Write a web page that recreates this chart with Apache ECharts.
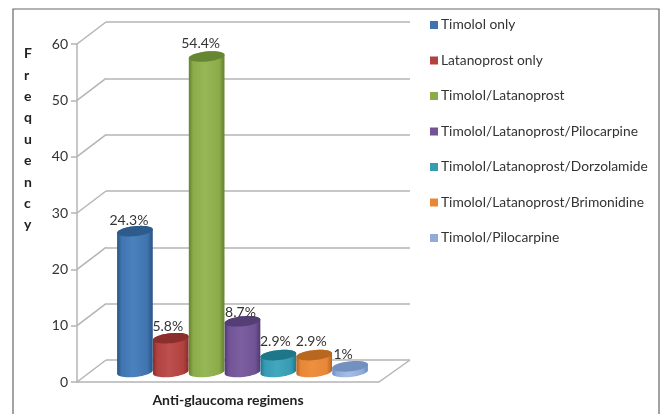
<!DOCTYPE html>
<html>
<head>
<meta charset="utf-8">
<style>html,body{margin:0;padding:0;background:#fff}#c{width:661px;height:414px;filter:blur(0.35px)}</style>
<script src="https://cdn.jsdelivr.net/npm/echarts@6/dist/echarts.min.js"></script>
</head>
<body>
<div id="c"></div>
<script>
const categories = ['Timolol only','Latanoprost only','Timolol/Latanoprost','Timolol/Latanoprost/Pilocarpine','Timolol/Latanoprost/Dorzolamide','Timolol/Latanoprost/Brimonidine','Timolol/Pilocarpine'];
const frequencies = [25,6,56,9,3,3,1];
const percentLabels = ['24.3%','5.8%','54.4%','8.7%','2.9%','2.9%','1%'];
const yTicks = [0,10,20,30,40,50,60];

const palette = [
  {main:'#3f74ae',dark:'#285382',light:'#4b82be',top:'#2d5b8c'},
  {main:'#b24240',dark:'#862d2b',light:'#bc504e',top:'#8b2e2c'},
  {main:'#8cac4a',dark:'#63812d',light:'#97b655',top:'#678632'},
  {main:'#725496',dark:'#513873',light:'#7b5fa0',top:'#553d76'},
  {main:'#369cb3',dark:'#20768b',light:'#43a7bd',top:'#1e7689'},
  {main:'#e88736',dark:'#b4631e',light:'#ec9040',top:'#b86720'},
  {main:'#8fabd8',dark:'#6a8cbf',light:'#a5bee3',top:'#7391c0'}
];
const labelShift = [-6,-3,-6,-2,-3,-3,-7];
const labelLift = [11,12,13,9,14,14,12];
const axisGray = '#b4b4b4';
const textColor = '#333';
const depthX = 29, depthY = -22;
const tilt = -6 * Math.PI / 180;
const ry = 5;

function ell(cx, cy, rx, a0, a1, n) {
  const pts = [];
  for (let i = 0; i <= n; i++) {
    const a = a0 + (a1 - a0) * i / n;
    const ex = rx * Math.cos(a), ey = ry * Math.sin(a);
    pts.push([cx + ex * Math.cos(tilt) - ey * Math.sin(tilt), cy + ex * Math.sin(tilt) + ey * Math.cos(tilt)]);
  }
  return pts;
}

function renderBar(idx) {
  return function (params, api) {
    const p = api.coord([api.value(0), api.value(1)]);
    const base = api.coord([api.value(0), 0]);
    const rx = api.size([1, 0])[0] / 2;
    const c = palette[idx];
    const pts = ell(base[0], base[1], rx, Math.PI, 0, 24).concat(ell(p[0], p[1], rx, 0, -Math.PI, 24));
    return {
      type: 'group',
      children: [
        {type:'polygon', shape:{points:pts}, style:{fill:{type:'linear',x:0,y:0,x2:1,y2:0,colorStops:[
          {offset:0,color:c.dark},{offset:0.12,color:c.main},{offset:0.45,color:c.light},{offset:0.85,color:c.main},{offset:1,color:c.dark}]}}},
        {type:'polygon', shape:{points:ell(p[0], p[1], rx, 0, 2*Math.PI, 48)}, style:{fill:c.top}},
        {type:'text', x:p[0] + labelShift[idx], y:p[1] - labelLift[idx], style:{text:percentLabels[idx], fill:textColor, font:'14px Lato', align:'center', verticalAlign:'middle'}}
      ]
    };
  };
}

function renderDiagonal(params, api) {
  const y = api.coord([0, api.value(0)])[1];
  const x = params.coordSys.x;
  return {type:'line', shape:{x1:x,y1:y,x2:x+depthX,y2:y+depthY}, style:{stroke:axisGray,lineWidth:1.5}};
}
function renderFloorEdge(params, api) {
  const y = api.coord([0, api.value(0)])[1];
  const x = params.coordSys.x + params.coordSys.width;
  return {type:'line', shape:{x1:x,y1:y,x2:x+depthX+2,y2:y+depthY}, style:{stroke:axisGray,lineWidth:1.5}};
}

const hiddenAxis = {show:false};
const barSeries = categories.map((name,i) => ({
  name, type:'custom', xAxisIndex:2, yAxisIndex:2, z:5,
  itemStyle:{color:palette[i].main},
  renderItem:renderBar(i), clip:false,
  encode:{x:0,y:1},
  data:[[i,frequencies[i]]]
}));

const option = {
  animation:false,
  backgroundColor:'#fff',
  textStyle:{fontFamily:'Lato'},
  title:{text:'F\nr\ne\nq\nu\ne\nn\nc\ny', left:19, top:38, textStyle:{fontFamily:'Lato',fontSize:14,fontWeight:'bold',color:'#222',lineHeight:21.4}},
  legend:{orient:'vertical', left:425, top:13, itemWidth:8, itemHeight:8, itemGap:21.5, icon:'rect',
    textStyle:{fontFamily:'Lato',fontSize:13.8,color:textColor,padding:[0,0,0,-2]},
    data:categories, selectedMode:false},
  grid:[
    {left:77, top:44, width:302, height:338, outerBoundsMode:'none'},
    {left:106, top:22, width:304, height:338, outerBoundsMode:'none'},
    {left:117, top:34, width:251, height:338, outerBoundsMode:'none'}
  ],
  xAxis:[
    {gridIndex:0, type:'category', data:categories, axisTick:{show:false}, axisLabel:{show:false},
     axisLine:{lineStyle:{color:axisGray,width:1.5}},
     name:'Anti-glaucoma regimens', nameLocation:'middle', nameGap:11,
     nameTextStyle:{fontFamily:'Lato',fontSize:14,fontWeight:'bold',color:'#222'}},
    {gridIndex:1, type:'category', data:categories, ...hiddenAxis},
    {gridIndex:2, type:'category', data:categories, ...hiddenAxis}
  ],
  yAxis:[
    {gridIndex:0, type:'value', min:0, max:60, interval:10, splitLine:{show:false},
     axisLine:{show:true,lineStyle:{color:axisGray,width:1.5}},
     axisTick:{show:true,length:6,lineStyle:{color:axisGray,width:1.5}},
     axisLabel:{fontFamily:'Lato',fontSize:14,color:textColor,margin:9}},
    {gridIndex:1, type:'value', min:0, max:60, interval:10, axisLine:{show:false}, axisTick:{show:false}, axisLabel:{show:false},
     splitLine:{show:true,lineStyle:{color:axisGray,width:1.5,type:'solid'}}},
    {gridIndex:2, type:'value', min:0, max:60, interval:10, ...hiddenAxis}
  ],
  graphic:[{type:'rect', silent:true, z:-1, shape:{x:13,y:9,width:646,height:420}, style:{fill:'none',stroke:'#666',lineWidth:1.2}}],
  series:[
    {name:'wall', type:'custom', xAxisIndex:0, yAxisIndex:0, z:1, renderItem:renderDiagonal, clip:false, encode:{y:0}, data:yTicks.map(v=>[v])},
    {name:'floor', type:'custom', xAxisIndex:0, yAxisIndex:0, z:1, renderItem:renderFloorEdge, clip:false, encode:{y:0}, data:[[yTicks[0]]]},
    ...barSeries
  ]
};
echarts.init(document.getElementById('c'),null,{renderer:'canvas'}).setOption(option);
</script>
</body>
</html>
